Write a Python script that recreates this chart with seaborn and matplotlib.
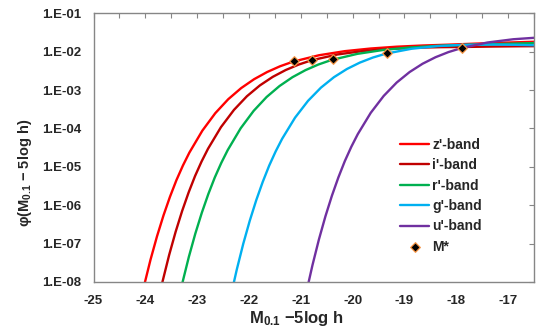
import matplotlib
matplotlib.use("Agg")
import matplotlib.pyplot as plt
import matplotlib.ticker as mticker
import seaborn as sns
import numpy as np
import pandas as pd

# ---- data ----
bands = ["z'-band", "i'-band", "r'-band", "g'-band", "u'-band"]

z_M = [-24.15, -24.025, -23.90, -23.775, -23.65, -23.525, -23.40, -23.275, -23.15, -22.90, -22.65, -22.40, -22.15,
       -21.90, -21.65, -21.40, -21.15, -20.65, -20.15, -19.65, -19.15, -18.65, -18.15, -17.65, -17.15, -16.65, -16.40]
z_log = [-8.854, -8.101, -7.420, -6.812, -6.268, -5.782, -5.347, -4.967, -4.629, -4.058, -3.602, -3.238, -2.948,
         -2.716, -2.530, -2.380, -2.260, -2.093, -1.986, -1.917, -1.870, -1.839, -1.817, -1.791, -1.768, -1.748, -1.739]

i_M = [-23.79, -23.665, -23.54, -23.415, -23.29, -23.165, -23.04, -22.915, -22.79, -22.54, -22.29, -22.04, -21.79,
       -21.54, -21.29, -21.04, -20.79, -20.29, -19.79, -19.29, -18.79, -18.29, -17.79, -17.29, -16.79, -16.29]
i_log = [-8.721, -7.972, -7.295, -6.691, -6.151, -5.669, -5.238, -4.862, -4.528, -3.965, -3.517, -3.161, -2.879,
         -2.655, -2.477, -2.335, -2.223, -2.072, -1.981, -1.928, -1.897, -1.882, -1.876, -1.866, -1.859, -1.855]

r_M = [-23.41, -23.285, -23.16, -23.035, -22.91, -22.785, -22.66, -22.535, -22.41, -22.16, -21.91, -21.66, -21.41,
       -21.16, -20.91, -20.66, -20.41, -19.91, -19.41, -18.91, -18.41, -17.91, -17.41, -16.91, -16.41]
r_log = [-8.776, -8.024, -7.345, -6.738, -6.196, -5.711, -5.278, -4.899, -4.563, -3.995, -3.542, -3.181, -2.894,
         -2.664, -2.481, -2.334, -2.217, -2.057, -1.955, -1.892, -1.851, -1.826, -1.810, -1.790, -1.773]

g_M = [-22.36, -22.235, -22.11, -21.985, -21.86, -21.735, -21.61, -21.485, -21.36, -21.11, -20.86, -20.61, -20.36,
       -20.11, -19.86, -19.61, -19.36, -18.86, -18.36, -17.86, -17.36, -16.86, -16.36]
g_log = [-8.418, -7.675, -7.003, -6.405, -5.870, -5.394, -4.968, -4.598, -4.269, -3.717, -3.280, -2.935, -2.664,
         -2.451, -2.284, -2.153, -2.052, -1.923, -1.854, -1.822, -1.814, -1.821, -1.837]

u_M = [-20.90, -20.775, -20.65, -20.525, -20.40, -20.275, -20.15, -20.025, -19.90, -19.65, -19.40, -19.15, -18.90,
       -18.65, -18.40, -18.15, -17.90, -17.40, -16.90, -16.40]
u_log = [-8.308, -7.563, -6.890, -6.290, -5.754, -5.276, -4.849, -4.477, -4.147, -3.592, -3.152, -2.804, -2.530,
         -2.314, -2.144, -2.010, -1.906, -1.761, -1.676, -1.629]

mstar_M = [-21.13, -20.78, -20.38, -19.34, -17.89]
mstar_log = [-2.242, -2.210, -2.197, -2.038, -1.894]

band_colors = ["#FF0000", "#C00000", "#00B050", "#00B0F0", "#7030A0"]
y_ticks = [1e-1, 1e-2, 1e-3, 1e-4, 1e-5, 1e-6, 1e-7, 1e-8]
y_tick_labels = ["1.E-01", "1.E-02", "1.E-03", "1.E-04", "1.E-05", "1.E-06", "1.E-07", "1.E-08"]
x_ticks = [-25, -24, -23, -22, -21, -20, -19, -18, -17]

# ---- build table ----
frames = []
for name, M, lg in zip(bands, [z_M, i_M, r_M, g_M, u_M], [z_log, i_log, r_log, g_log, u_log]):
    frames.append(pd.DataFrame({"M": M, "phi": np.power(10.0, lg), "band": name}))
df = pd.concat(frames, ignore_index=True)
ms_df = pd.DataFrame({"M": mstar_M, "phi": np.power(10.0, mstar_log)})

sns.set_style("white")
plt.rcParams["font.family"] = ["Liberation Sans", "DejaVu Sans"]
plt.rcParams["font.weight"] = "bold"
plt.rcParams["mathtext.fontset"] = "custom"
plt.rcParams["mathtext.rm"] = "Liberation Sans:bold"
plt.rcParams["mathtext.it"] = "Liberation Sans:bold"
plt.rcParams["mathtext.bf"] = "Liberation Sans:bold"

fig = plt.figure(figsize=(5.45, 3.35), dpi=100)
ax = fig.add_axes([93.5 / 545, 1 - 282 / 335, (534 - 93.5) / 545, (282 - 13.3) / 335])

sns.lineplot(data=df, x="M", y="phi", hue="band", hue_order=bands, palette=band_colors,
             estimator=None, sort=False, linewidth=1.7, ax=ax)
sns.scatterplot(data=ms_df, x="M", y="phi", marker="D", color="black", edgecolor="#F79646",
                linewidth=0.9, s=24, zorder=5, label="M*", ax=ax)

ax.set_yscale("log")
ax.set_xlim(-25, -16.5)
ax.set_ylim(1e-8, 1e-1)

ax.set_yticks(y_ticks)
ax.set_yticklabels(y_tick_labels)
ax.yaxis.set_minor_locator(mticker.NullLocator())
ax.set_xticks(x_ticks)
ax.set_xticklabels([str(t) for t in x_ticks])
ax.xaxis.set_minor_locator(mticker.MultipleLocator(0.5))

gray = "#868686"
for sp in ax.spines.values():
    sp.set_color(gray)
    sp.set_linewidth(1.0)
ax.tick_params(axis="both", which="both", direction="in", color=gray, width=0.8,
               top=True, right=True, labelsize=9.5)
ax.tick_params(axis="both", which="both", length=3.5)
ax.tick_params(axis="y", which="major", pad=9)
ax.tick_params(axis="x", which="major", pad=9.5)
for lab in ax.get_xticklabels() + ax.get_yticklabels():
    lab.set_fontweight("bold")

ax.set_xlabel(r"M$_{0.1}$ $-$5log h", fontsize=12, fontweight="bold")
ax.xaxis.set_label_coords(0.461, -0.10)
ax.set_ylabel(r"φ(M$_{0.1}$ $-$ 5log h)", fontsize=10.5, fontweight="bold")
ax.yaxis.set_label_coords(-0.135, 0.405)

handles, labels = ax.get_legend_handles_labels()
leg = ax.legend(handles, labels, loc="upper left", bbox_to_anchor=(0.683, 0.557), frameon=False,
                handlelength=2.1, handletextpad=0.22, labelspacing=0.46, borderaxespad=0, borderpad=0.4,
                prop={"weight": "bold", "size": 10})

fig.savefig("out.png", dpi=100)
